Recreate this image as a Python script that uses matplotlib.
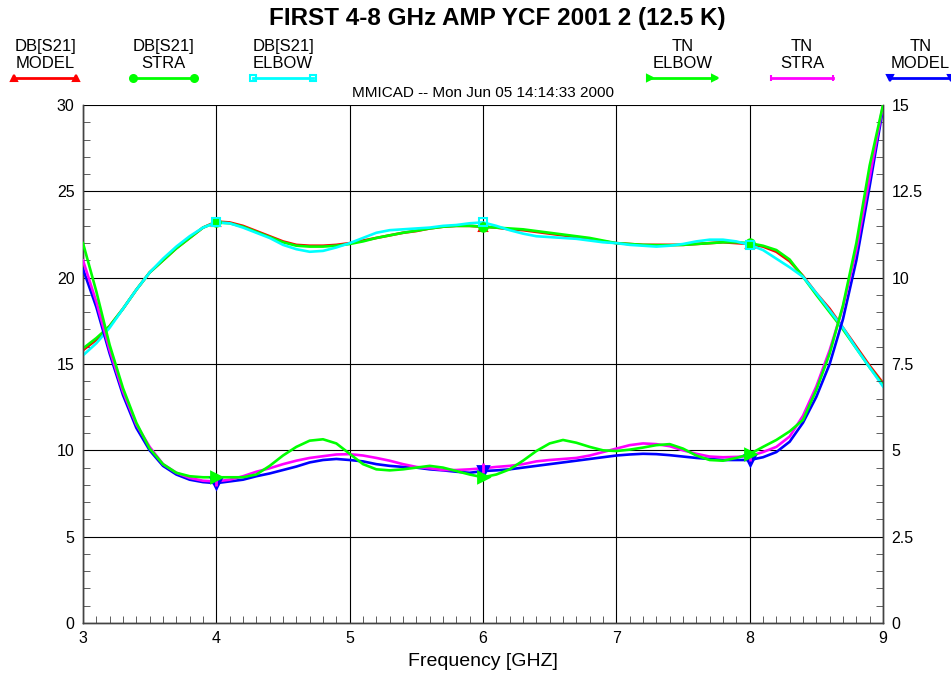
import numpy as np
import matplotlib
matplotlib.use('Agg')
import matplotlib.pyplot as plt
from matplotlib.lines import Line2D
from matplotlib.ticker import MultipleLocator

plt.rcParams['font.family'] = ['Liberation Sans', 'DejaVu Sans']

# frequency grid (GHz)
freq = np.round(np.arange(3.0, 9.01, 0.1), 2)

# DB[S21] curves (left axis, dB)
db_model = [15.8, 16.4, 17.2, 18.2, 19.3, 20.3, 21.0, 21.7, 22.3, 22.9,
            23.25, 23.2, 23.0, 22.7, 22.4, 22.1, 21.9, 21.85, 21.85, 21.9,
            22.0, 22.15, 22.3, 22.45, 22.6, 22.7, 22.85, 22.95, 23.0, 23.0,
            22.95, 22.9, 22.8, 22.75, 22.65, 22.55, 22.45, 22.35, 22.25, 22.1,
            22.0, 21.95, 21.9, 21.9, 21.9, 21.9, 21.95, 22.0, 22.05, 22.0,
            21.95, 21.8, 21.5, 20.95, 20.1, 19.1, 18.2, 17.1, 16.0, 14.9,
            13.9]
db_stra = [15.9, 16.5, 17.2, 18.2, 19.3, 20.3, 21.0, 21.7, 22.3, 22.9,
           23.2, 23.15, 22.95, 22.65, 22.35, 22.05, 21.85, 21.8, 21.8, 21.85,
           21.95, 22.1, 22.3, 22.45, 22.6, 22.72, 22.85, 22.95, 23.0, 23.0,
           22.95, 22.9, 22.85, 22.8, 22.7, 22.6, 22.5, 22.4, 22.3, 22.15,
           22.0, 21.95, 21.9, 21.88, 21.88, 21.9, 21.95, 22.0, 22.05, 22.05,
           22.0, 21.85, 21.6, 21.05, 20.05, 19.0, 18.0, 17.0, 15.9, 14.8,
           13.8]
db_elbow = [15.5, 16.2, 17.1, 18.2, 19.3, 20.3, 21.1, 21.8, 22.4, 22.9,
            23.2, 23.15, 22.9, 22.6, 22.3, 21.9, 21.65, 21.5, 21.55, 21.75,
            22.0, 22.3, 22.6, 22.75, 22.8, 22.85, 22.9, 23.0, 23.05, 23.15,
            23.2, 23.0, 22.75, 22.55, 22.4, 22.35, 22.3, 22.25, 22.15, 22.05,
            22.0, 21.9, 21.85, 21.8, 21.85, 21.95, 22.1, 22.2, 22.2, 22.1,
            21.9, 21.6, 21.1, 20.6, 20.05, 19.1, 18.1, 17.1, 15.9, 14.8,
            13.7]

# TN curves (right axis, K)
tn_model = [10.25, 9.15, 7.8, 6.6, 5.65, 5.0, 4.55, 4.3, 4.15, 4.08,
            4.05, 4.1, 4.15, 4.25, 4.33, 4.43, 4.53, 4.65, 4.72, 4.75,
            4.72, 4.68, 4.6, 4.55, 4.52, 4.5, 4.45, 4.42, 4.38, 4.35,
            4.4, 4.42, 4.45, 4.5, 4.55, 4.6, 4.65, 4.7, 4.75, 4.8,
            4.85, 4.88, 4.9, 4.89, 4.86, 4.82, 4.78, 4.75, 4.72, 4.72,
            4.72, 4.8, 4.95, 5.25, 5.8, 6.55, 7.5, 8.8, 10.5, 12.65,
            14.9]
tn_stra = [10.5, 9.3, 7.9, 6.7, 5.75, 5.1, 4.6, 4.35, 4.2, 4.12,
           4.1, 4.15, 4.25, 4.38, 4.48, 4.6, 4.7, 4.78, 4.83, 4.88,
           4.89, 4.85, 4.78, 4.7, 4.6, 4.52, 4.48, 4.43, 4.43, 4.45,
           4.48, 4.52, 4.55, 4.6, 4.68, 4.72, 4.75, 4.78, 4.85, 4.95,
           5.05, 5.15, 5.2, 5.18, 5.12, 5.0, 4.9, 4.82, 4.8, 4.81,
           4.83, 4.95, 5.1, 5.4, 6.0, 6.85, 7.9, 9.15, 10.8, 12.9,
           15.0]
tn_elbow = [11.0, 9.6, 8.05, 6.8, 5.8, 5.05, 4.6, 4.35, 4.25, 4.22,
            4.22, 4.22, 4.22, 4.3, 4.55, 4.85, 5.1, 5.28, 5.32, 5.2,
            4.9, 4.6, 4.45, 4.42, 4.45, 4.5, 4.55, 4.5, 4.4, 4.3,
            4.22, 4.3, 4.45, 4.7, 4.98, 5.2, 5.3, 5.22, 5.1, 5.0,
            4.98, 5.02, 5.08, 5.15, 5.18, 5.05, 4.85, 4.72, 4.7, 4.78,
            4.89, 5.1, 5.3, 5.55, 5.88, 6.75, 7.8, 9.2, 11.0, 13.25,
            15.0]

# marker frequencies
mark_f = [4.0, 6.0, 8.0]

RED, GREEN, CYAN, MAG, BLUE = '#ff0000', '#00ff00', '#00ffff', '#ff00ff', '#0000ff'

fig = plt.figure(figsize=(9.51, 6.78), dpi=100)
W, H = 951.0, 678.0
ax = fig.add_axes([83 / W, 55 / H, 800 / W, 518 / H])
ax2 = ax.twinx()

ax.set_xlim(3, 9)
ax.set_ylim(0, 30)
ax2.set_ylim(0, 15)

ax.xaxis.set_major_locator(MultipleLocator(1))
ax.xaxis.set_minor_locator(MultipleLocator(0.1))
ax.yaxis.set_major_locator(MultipleLocator(5))
ax.yaxis.set_minor_locator(MultipleLocator(1))
ax2.yaxis.set_minor_locator(MultipleLocator(0.5))
ax2.set_yticks([0, 2.5, 5, 7.5, 10, 12.5, 15])
ax2.set_yticklabels(['0', '2.5', '5', '7.5', '10', '12.5', '15'])

ax.grid(True, which='major', color='black', lw=0.8)
ax.set_axisbelow(True)
for a in (ax, ax2):
    a.tick_params(which='both', direction='in', labelsize=11.5, pad=6, color='#444444')
    a.tick_params(which='major', length=0)
    a.tick_params(which='minor', length=5)
    for s in a.spines.values():
        s.set_color('#444444')
        s.set_linewidth(1.0)
    a.spines['top'].set_visible(False)

ax.set_xlabel('Frequency [GHZ]', fontsize=14, labelpad=5)

def marks(x, y):
    idx = [int(round((f - 3.0) * 10)) for f in mark_f]
    return [x[i] for i in idx], [y[i] for i in idx]

# DB[S21] curves
for y, c, m, mfc in [(db_model, RED, '^', RED), (db_stra, GREEN, 'o', GREEN),
                     (db_elbow, CYAN, 's', 'none')]:
    ax.plot(freq, y, color=c, lw=1.9, zorder=3)
    mx, my = marks(freq, y)
    ax.plot(mx, my, ls='none', marker=m, color=c, mfc=mfc, ms=6, mew=1.5, zorder=4)

# TN curves
for y, c, m in [(tn_model, BLUE, 'v'), (tn_stra, MAG, '|'), (tn_elbow, GREEN, '>')]:
    ax2.plot(freq, y, color=c, lw=1.9, zorder=3)
    mx, my = marks(freq, y)
    ax2.plot(mx, my, ls='none', marker=m, color=c, ms=7, mew=2, zorder=4)

# title and header texts
fig.text(497 / W, 1 - 18 / H, 'FIRST 4-8 GHz AMP YCF 2001 2 (12.5 K)',
         ha='center', va='center', fontsize=17.5, fontweight='bold')
fig.text(483 / W, 1 - 93 / H, 'MMICAD -- Mon Jun 05 14:14:33 2000',
         ha='center', va='center', fontsize=11)

# legend entries drawn above the plot
leg_names = ['DB[S21]\nMODEL', 'DB[S21]\nSTRA', 'DB[S21]\nELBOW',
             'TN\nELBOW', 'TN\nSTRA', 'TN\nMODEL']
leg_colors = [RED, GREEN, CYAN, GREEN, MAG, BLUE]
leg_markers = ['^', 'o', 's', '>', '|', 'v']
leg_x0 = [14, 133, 253, 650, 771, 890]
leg_x1 = [76, 194, 313, 715, 833, 951]
for name, c, m, x0, x1 in zip(leg_names, leg_colors, leg_markers, leg_x0, leg_x1):
    fig.text((x0 + x1) / 2 / W, 1 - 55 / H, name, ha='center', va='center',
             fontsize=12, linespacing=1.15)
    mfc = 'none' if m == 's' else c
    fig.add_artist(Line2D([x0 / W, x1 / W], [1 - 78 / H, 1 - 78 / H],
                          transform=fig.transFigure, color=c, lw=2,
                          marker=m, ms=5, mfc=mfc, mew=1.5))

fig.savefig('out.png', dpi=100)
